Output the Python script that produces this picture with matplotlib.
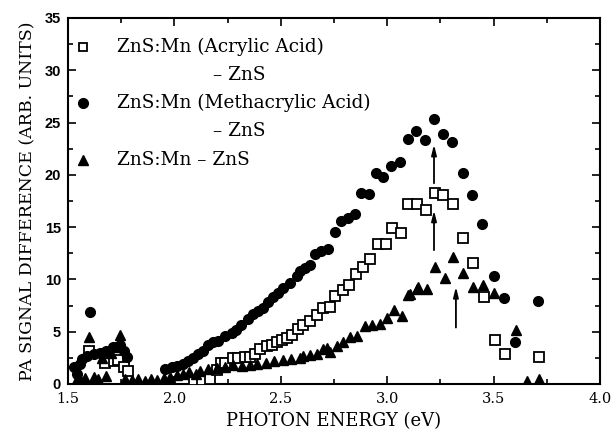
import matplotlib
matplotlib.use("Agg")
import matplotlib.pyplot as plt
from matplotlib.ticker import MultipleLocator

# ZnS:Mn (Acrylic Acid) - ZnS  (open squares)
acr_x = [1.597, 1.675, 1.715, 1.735, 1.762, 1.78,
         2.09, 2.13, 2.167, 2.20, 2.22, 2.238, 2.277, 2.30, 2.33, 2.355, 2.38, 2.40,
         2.434, 2.457, 2.48, 2.504, 2.528, 2.551, 2.582, 2.606, 2.637, 2.669, 2.70,
         2.731, 2.755, 2.79, 2.822, 2.853, 2.888, 2.92, 2.955, 2.993, 3.021, 3.065,
         3.10, 3.139, 3.182, 3.225, 3.264, 3.311, 3.358, 3.405, 3.455, 3.505, 3.553, 3.713]
acr_y = [3.2, 2.0, 2.2, 2.3, 1.6, 1.2,
         0.4, 0.4, 0.5, 1.3, 2.0, 2.0, 2.5, 2.5, 2.6, 2.6, 2.9, 3.3,
         3.6, 3.7, 4.0, 4.2, 4.4, 4.7, 5.3, 5.6, 6.0, 6.6, 7.3,
         7.4, 8.4, 9.0, 9.5, 10.5, 11.2, 12.0, 13.4, 13.4, 14.9, 14.4,
         17.2, 17.2, 16.6, 18.3, 18.1, 17.2, 14.0, 11.6, 8.3, 4.2, 2.9, 2.6]

# ZnS:Mn (Methacrylic Acid) - ZnS  (filled circles)
meth_x = [1.53, 1.54, 1.556, 1.564, 1.588, 1.603, 1.62, 1.65, 1.68, 1.713, 1.745, 1.762, 1.775,
          1.955, 1.987, 2.01, 2.04, 2.065, 2.088, 2.11, 2.135, 2.16, 2.18, 2.206, 2.237,
          2.27, 2.29, 2.315, 2.346, 2.37, 2.393, 2.417, 2.44, 2.464, 2.487, 2.51, 2.542,
          2.574, 2.589, 2.613, 2.636, 2.66, 2.691, 2.722, 2.754, 2.785, 2.816, 2.847,
          2.879, 2.915, 2.946, 2.98, 3.02, 3.059, 3.098, 3.137, 3.179, 3.22, 3.262,
          3.306, 3.356, 3.40, 3.447, 3.50, 3.547, 3.60, 3.71]
meth_y = [1.6, 1.0, 1.9, 2.4, 2.7, 6.9, 2.9, 3.0, 3.2, 3.5, 3.7, 3.2, 2.6,
          1.4, 1.6, 1.7, 1.9, 2.2, 2.5, 2.9, 3.2, 3.7, 4.0, 4.1, 4.6,
          4.9, 5.2, 5.6, 6.2, 6.7, 7.0, 7.3, 7.8, 8.3, 8.7, 9.2, 9.7,
          10.3, 10.8, 11.1, 11.4, 12.4, 12.7, 12.9, 14.5, 15.6, 15.9, 16.3,
          18.3, 18.2, 20.2, 19.8, 20.8, 21.2, 23.4, 24.2, 23.3, 25.3, 23.9,
          23.1, 20.2, 18.1, 15.3, 10.3, 8.2, 4.0, 7.9]

# ZnS:Mn - ZnS  (filled triangles)
tri_x = [1.54, 1.56, 1.58, 1.597, 1.62, 1.64, 1.66, 1.68, 1.70, 1.72, 1.746, 1.77,
         1.80, 1.83, 1.86, 1.89, 1.92, 1.95, 1.98, 2.01, 2.04, 2.07, 2.10, 2.12,
         2.16, 2.20, 2.24, 2.277, 2.32, 2.355, 2.39, 2.43, 2.47, 2.51, 2.55, 2.59,
         2.606, 2.637, 2.669, 2.70, 2.716, 2.731, 2.763, 2.794, 2.825, 2.857, 2.896,
         2.927, 2.966, 2.997, 3.032, 3.068, 3.10, 3.139, 3.107, 3.146, 3.185, 3.225,
         3.272, 3.311, 3.358, 3.405, 3.452, 3.503, 3.605, 3.655, 3.715]
tri_y = [0.5, 0.3, 0.6, 4.5, 0.7, 0.5, 2.5, 0.8, 3.0, 3.5, 4.7, 0.5,
         0.4, 0.5, 0.3, 0.5, 0.4, 0.6, 0.7, 0.9, 1.0, 1.1, 1.0, 1.2,
         1.4, 1.5, 1.6, 1.8, 1.7, 1.8, 1.9, 2.0, 2.2, 2.3, 2.4, 2.5,
         2.7, 2.8, 2.9, 3.3, 3.4, 3.1, 3.6, 4.0, 4.5, 4.6, 5.5,
         5.6, 5.7, 6.3, 7.1, 6.5, 8.5, 9.1, 8.6, 9.3, 9.1, 11.2,
         10.1, 12.1, 10.6, 9.3, 9.5, 8.7, 5.2, 0.3, 0.45]

# arrows (x, y_start, y_end)
arrow_x = [3.22, 3.22, 3.323]
arrow_y0 = [19.2, 12.8, 5.4]
arrow_y1 = [22.9, 16.6, 9.3]

legend_labels = ["ZnS:Mn (Acrylic Acid)", "\u2013 ZnS",
                 "ZnS:Mn (Methacrylic Acid)", "\u2013 ZnS", "ZnS:Mn \u2013 ZnS"]

serif = ["DejaVu Serif"]

fig = plt.figure(figsize=(6.16, 4.4), dpi=100)
ax = fig.add_axes([0.1104, 0.1273, 0.8636, 0.8318])

ax.plot(acr_x, acr_y, linestyle="none", marker="s", ms=6.5, mfc="white",
        mec="black", mew=1.3, zorder=3)
ax.plot(meth_x, meth_y, linestyle="none", marker="o", ms=7, mfc="black",
        mec="black", zorder=3)
ax.plot(tri_x, tri_y, linestyle="none", marker="^", ms=7.5, mfc="black",
        mec="black", zorder=3)

for xa, y0, y1 in zip(arrow_x, arrow_y0, arrow_y1):
    ax.annotate("", xy=(xa, y1), xytext=(xa, y0),
                arrowprops=dict(arrowstyle="-|>,head_length=0.6,head_width=0.15",
                                color="black", lw=1.3, shrinkA=0, shrinkB=0))

ax.set_xlim(1.5, 4.0)
ax.set_ylim(0, 35)
ax.xaxis.set_major_locator(MultipleLocator(0.5))
ax.xaxis.set_minor_locator(MultipleLocator(0.25))
ax.yaxis.set_major_locator(MultipleLocator(5))
ax.yaxis.set_minor_locator(MultipleLocator(2.5))
ax.tick_params(which="both", direction="in", top=True, right=True, width=1.2)
ax.tick_params(which="major", length=6)
ax.tick_params(which="minor", length=3.5)
for s in ax.spines.values():
    s.set_linewidth(1.5)

ax.set_xticks([1.5, 2.0, 2.5, 3.0, 3.5, 4.0])
ax.set_xticklabels(["1.5", "2.0", "2.5", "3.0", "3.5", "4.0"], family=serif, fontsize=10.5)
ax.set_yticks([0, 5, 10, 15, 20, 25, 30, 35])
ax.set_yticklabels(["0", "5", "10", "15", "20", "25", "30", "35"],
                   family=["Liberation Sans"], fontsize=10.5, fontweight="bold")
ax.tick_params(axis="x", pad=6)
ax.tick_params(axis="y", pad=5)

ax.set_xlabel("PHOTON ENERGY (eV)", family=serif, fontsize=13, labelpad=4)
ax.set_ylabel("PA SIGNAL DIFFERENCE (ARB. UNITS)", family=serif, fontsize=12.5, labelpad=6)

# manual legend
mx = 0.029
tx = 0.092
rows = [0.92, 0.843, 0.767, 0.69, 0.612]
ax.plot([mx], [rows[0]], transform=ax.transAxes, marker="s", ms=6, mfc="white",
        mec="black", mew=1.3, linestyle="none", clip_on=False)
ax.plot([mx], [rows[2]], transform=ax.transAxes, marker="o", ms=7, mfc="black",
        mec="black", linestyle="none", clip_on=False)
ax.plot([mx], [rows[4]], transform=ax.transAxes, marker="^", ms=7.5, mfc="black",
        mec="black", linestyle="none", clip_on=False)
for i, lab in enumerate(legend_labels):
    xpos = tx if i not in (1, 3) else 0.272
    ax.text(xpos, rows[i], lab, transform=ax.transAxes, family=serif,
            fontsize=13.3, va="center", ha="left")

fig.savefig("out.png", dpi=100)
